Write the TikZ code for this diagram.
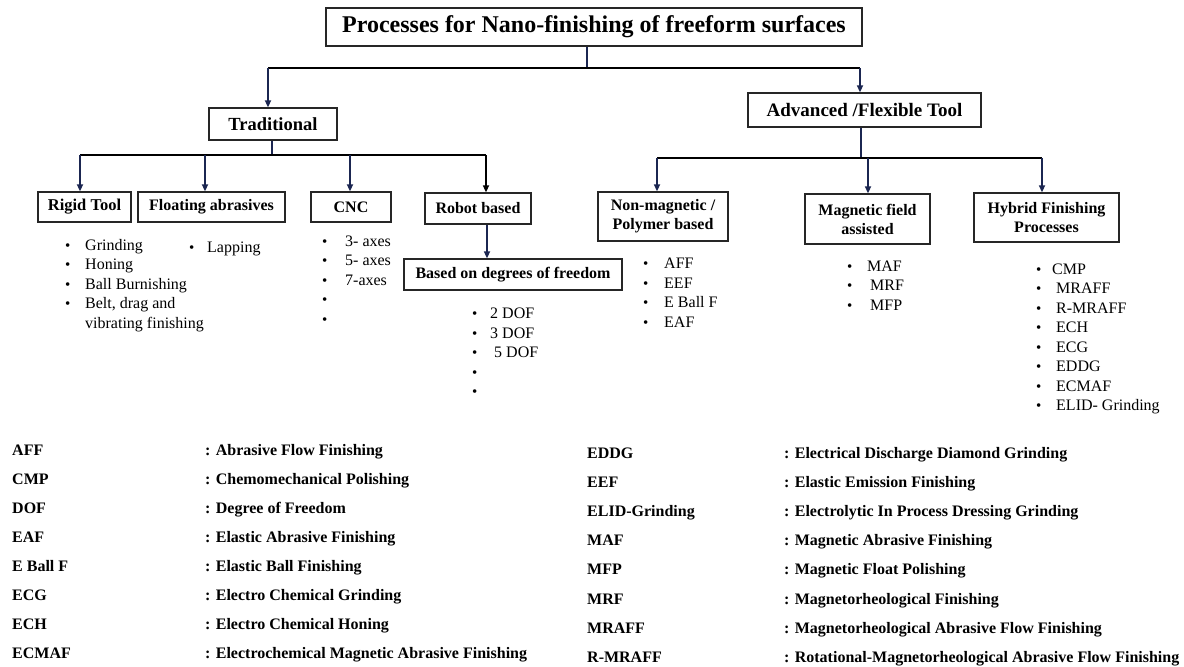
\documentclass[tikz,border=0pt]{standalone}
\usepackage{fontspec}
\setmainfont{Liberation Serif}
\usetikzlibrary{arrows.meta}
\definecolor{navy}{HTML}{1B2651}
\begin{document}
\begin{tikzpicture}[x=1pt,y=-1pt,
  box/.style={draw=black!85, line width=1.3pt, font=\bfseries\fontsize{16}{19}\selectfont, align=center, inner sep=0pt},
  hl/.style={line width=2pt, black},
  arr/.style={line width=1.6pt, navy, -{Triangle[length=7pt,width=6pt]}},
  itm/.style={anchor=base west, font=\fontsize{16}{19}\selectfont, inner sep=0pt},
  bul/.style={anchor=base west, font=\fontsize{15}{19}\selectfont, inner sep=0pt},
  lg/.style={anchor=base west, font=\bfseries\fontsize{16}{19}\selectfont, inner sep=0pt}]
\useasboundingbox (0,0) rectangle (1184,667);
\fill[white] (0,0) rectangle (1184,667);

% boxes
\node[box, minimum width=536pt, minimum height=38pt, font=\bfseries\fontsize{24}{28}\selectfont] (title) at (594,27) {Processes for Nano-finishing of freeform surfaces};
\node[box, minimum width=128pt, minimum height=32pt, font=\bfseries\fontsize{18.5}{22}\selectfont] (trad) at (273,124) {Traditional};
\node[box, minimum width=233pt, minimum height=34pt, font=\bfseries\fontsize{19}{22}\selectfont] (adv) at (864.5,110) {Advanced /Flexible Tool};
\node[box, minimum width=93pt, minimum height=30pt, font=\bfseries\fontsize{16.5}{19}\selectfont] (rigid) at (84.5,207) {Rigid Tool};
\node[box, minimum width=147pt, minimum height=30pt] (float) at (211.5,207) {Floating abrasives};
\node[box, minimum width=80pt, minimum height=30pt] (cnc) at (351,207) {CNC};
\node[box, minimum width=106pt, minimum height=31pt] (robot) at (478,208.5) {Robot based};
\node[box, minimum width=218pt, minimum height=31pt] (dofb) at (513,274.5) {Based on degrees of freedom};
\node[box, minimum width=130pt, minimum height=49pt] (nonmag) at (663,216.5) {Non-magnetic /\\Polymer based};
\node[box, minimum width=125pt, minimum height=50pt] (magf) at (867.5,219) {Magnetic field\\assisted};
\node[box, minimum width=145pt, minimum height=49pt] (hyb) at (1046.5,217.5) {Hybrid Finishing\\Processes};

% level 1 connectors
\coordinate (b1) at (587,68);
\coordinate (tradA) at ([xshift=-5pt]trad.north);
\coordinate (advA) at ([xshift=-4.5pt]adv.north);
\draw[line width=1.6pt, navy] (title.south -| b1) -- (b1);
\draw[hl] (tradA |- b1) -- (advA |- b1);
\draw[arr] (tradA |- b1) -- (tradA);
\draw[arr] (advA |- b1) -- (advA);

% traditional branches
\coordinate (b2) at (272,155);
\coordinate (rigA) at ([xshift=-4.5pt]rigid.north);
\coordinate (floA) at ([xshift=-6.5pt]float.north);
\coordinate (cncA) at ([xshift=-1pt]cnc.north);
\coordinate (robA) at ([xshift=8pt]robot.north);
\draw[line width=1.6pt, navy] (trad.south -| b2) -- (b2);
\draw[hl] (rigA |- b2) -- (robA |- b2);
\draw[arr] (rigA |- b2) -- (rigA);
\draw[arr] (floA |- b2) -- (floA);
\draw[arr] (cncA |- b2) -- (cncA);
\draw[arr, black] (robA |- b2) -- (robA);
\coordinate (dofA) at ([xshift=-26pt]dofb.north);
\draw[arr] (robot.south -| dofA) -- (dofA);

% advanced branches
\coordinate (b3) at (861,158);
\coordinate (nmA) at ([xshift=-6pt]nonmag.north);
\coordinate (mfA) at ([xshift=0.5pt]magf.north);
\coordinate (hyA) at ([xshift=-4.5pt]hyb.north);
\draw[line width=1.6pt, navy] (adv.south -| b3) -- (b3);
\draw[hl] (nmA |- b3) -- (hyA |- b3);
\draw[arr] (nmA |- b3) -- (nmA);
\draw[arr] (mfA |- b3) -- (mfA);
\draw[arr] (hyA |- b3) -- (hyA);

% rigid tool list
\foreach \t/\y [count=\i] in {Grinding/250, Honing/269.5, Ball Burnishing/289, {Belt, drag and}/308.5} {
  \node[bul] (rb\i) at (65,\y) {•};
  \node[itm] (rt\i) at (85,\y) {\t};
}
\node[itm] (rt5) at (85,328) {vibrating finishing};
% lapping
\node[bul] (lb1) at (189,252) {•};
\node[itm] (lt1) at (207,252) {Lapping};
% CNC list
\foreach \t/\y [count=\i] in {3- axes/246, 5- axes/265.5, 7-axes/285} {
  \node[bul] (cb\i) at (322,\y) {•};
  \node[itm] (ct\i) at (345,\y) {\t};
}
\node[bul] (cb4) at (322,304.5) {•};
\node[bul] (cb5) at (322,324) {•};
% DOF list
\foreach \t/\y [count=\i] in {2 DOF/318.5, 3 DOF/338, \ 5 DOF/357.5} {
  \node[bul] (db\i) at (472,\y) {•};
  \node[itm] (dt\i) at (490,\y) {\t};
}
\node[bul] (db4) at (472,377) {•};
\node[bul] (db5) at (472,396.5) {•};
% non-magnetic list
\foreach \t/\y [count=\i] in {AFF/268.5, EEF/288, E Ball F/307.5, EAF/327} {
  \node[bul] (nb\i) at (643,\y) {•};
  \node[itm] (nt\i) at (664,\y) {\t};
}
% magnetic list
\foreach \t/\y/\x [count=\i] in {MAF/271/867, MRF/290.5/870, MFP/310/870} {
  \node[bul] (mb\i) at (847,\y) {•};
  \node[itm] (mt\i) at (\x,\y) {\t};
}
% hybrid list
\foreach \t/\y/\x [count=\i] in {CMP/274/1052, MRAFF/293.5/1056, R-MRAFF/313/1056, ECH/332.5/1056, ECG/352/1056, EDDG/371.5/1056, ECMAF/391/1056, ELID- Grinding/410.5/1056} {
  \node[bul] (hb\i) at (1036,\y) {•};
  \node[itm] (ht\i) at (\x,\y) {\t};
}

% legend left
\foreach \a/\d [count=\i] in {AFF/Abrasive Flow Finishing, CMP/Chemomechanical Polishing, DOF/Degree of Freedom, EAF/Elastic Abrasive Finishing, E Ball F/Elastic Ball Finishing, ECG/Electro Chemical Grinding, ECH/Electro Chemical Honing, ECMAF/Electrochemical Magnetic Abrasive Finishing} {
  \node[lg] (la\i) at (12,{450+29*(\i-1)+5.5}) {\a};
  \node[lg] (ld\i) at (205,{450+29*(\i-1)+5.5}) {: \d};
}
% legend right
\foreach \a/\d [count=\i] in {EDDG/Electrical Discharge Diamond Grinding, EEF/Elastic Emission Finishing, ELID-Grinding/Electrolytic In Process Dressing Grinding, MAF/Magnetic Abrasive Finishing, MFP/Magnetic Float Polishing, MRF/Magnetorheological Finishing, MRAFF/Magnetorheological Abrasive Flow Finishing, R-MRAFF/Rotational-Magnetorheological Abrasive Flow Finishing} {
  \node[lg] (ra\i) at (587,{453+29.1*(\i-1)+5.5}) {\a};
  \node[lg] (rd\i) at (784,{453+29.1*(\i-1)+5.5}) {: \d};
}
\end{tikzpicture}
\end{document}
